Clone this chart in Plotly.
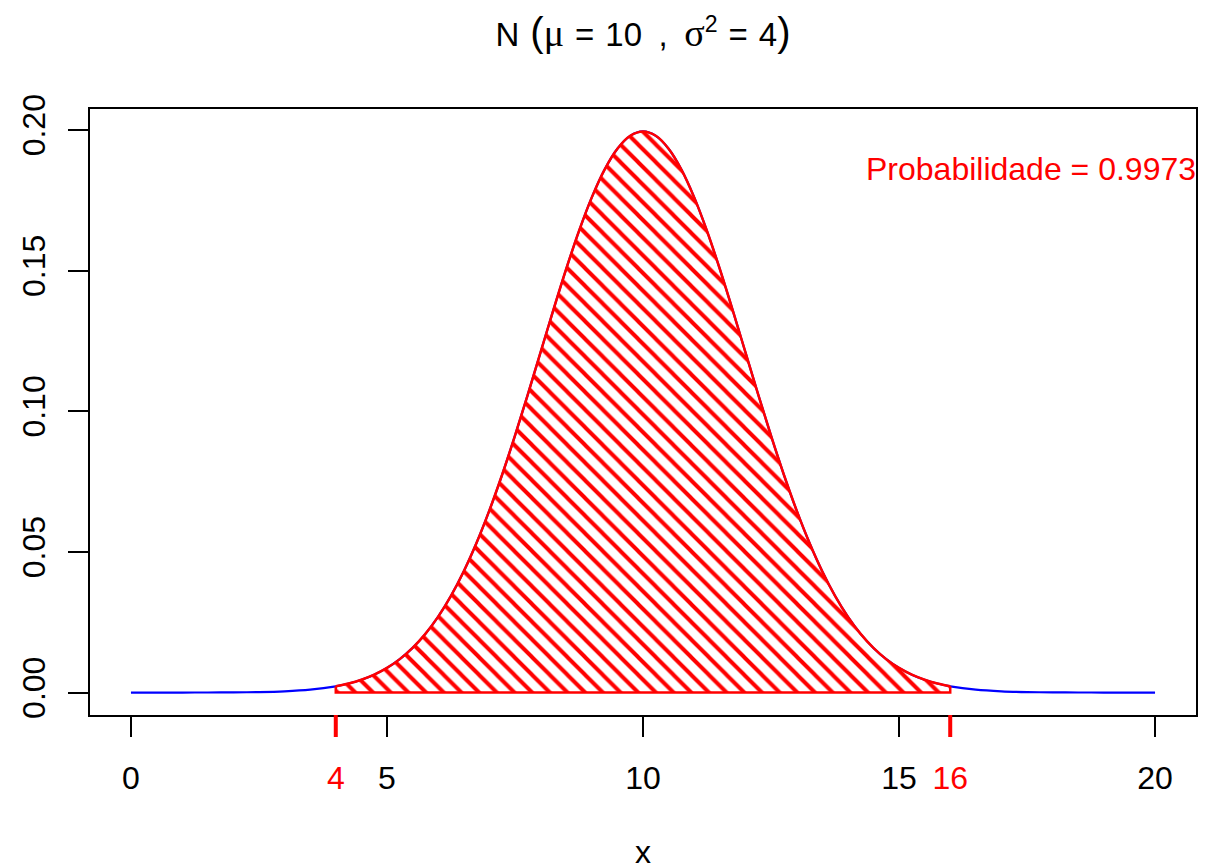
import plotly.graph_objects as go

# normal density N(10, 4) (finer steps inside the shaded part)
x_vals = [0, 0.5, 1, 1.5, 2, 2.5, 3, 3.5,
          4, 4.25, 4.5, 4.75, 5, 5.25, 5.5, 5.75, 6, 6.25, 6.5, 6.75, 7, 7.25, 7.5, 7.75,
          8, 8.25, 8.5, 8.75, 9, 9.25, 9.5, 9.75, 10, 10.25, 10.5, 10.75, 11, 11.25,
          11.5, 11.75, 12, 12.25, 12.5, 12.75, 13, 13.25, 13.5, 13.75, 14, 14.25, 14.5,
          14.75, 15, 15.25, 15.5, 15.75, 16,
          16.5, 17, 17.5, 18, 18.5, 19, 19.5, 20]
density = [0.0000007, 0.0000025, 0.0000080, 0.0000239, 0.0000669, 0.0001763, 0.0004363,
           0.0010141,
           0.00222, 0.00320, 0.00455, 0.00636, 0.00876, 0.01188, 0.01587, 0.02086,
           0.02700, 0.03439, 0.04314, 0.05327, 0.06476, 0.07751, 0.09132, 0.10594,
           0.12099, 0.13603, 0.15057, 0.16408, 0.17603, 0.18593, 0.19333, 0.19792,
           0.19947, 0.19792, 0.19333, 0.18593, 0.17603, 0.16408, 0.15057, 0.13603,
           0.12099, 0.10594, 0.09132, 0.07751, 0.06476, 0.05327, 0.04314, 0.03439,
           0.02700, 0.02086, 0.01587, 0.01188, 0.00876, 0.00636, 0.00455, 0.00320,
           0.00222,
           0.0010141, 0.0004363, 0.0001763, 0.0000669, 0.0000239, 0.0000080, 0.0000025,
           0.0000007]

lower, upper = 4, 16
prob_text = "Probabilidade = 0.9973"
x_ticks = [0, 5, 10, 15, 20]
y_ticks = [0.00, 0.05, 0.10, 0.15, 0.20]

i0 = x_vals.index(lower)
i1 = x_vals.index(upper)
x_shade = x_vals[i0:i1 + 1]
y_shade = density[i0:i1 + 1]

font = "Liberation Sans, Arial, sans-serif"
serif = "Liberation Serif, serif"

fig = go.Figure()

# full density in blue
fig.add_trace(go.Scatter(
    x=x_vals, y=density, mode="lines",
    line=dict(color="blue", width=2.2, shape="spline"),
    hoverinfo="skip", showlegend=False,
))

# hatched area between the limits
fig.add_trace(go.Scatter(
    x=x_shade, y=y_shade, mode="lines", fill="tozeroy",
    fillcolor="rgba(0,0,0,0)",
    fillpattern=dict(shape="\\", fgcolor="red", fgopacity=1, bgcolor="rgba(0,0,0,0)",
                     size=12.5, solidity=0.32),
    line=dict(color="red", width=2.5, shape="spline"),
    hoverinfo="skip", showlegend=False,
))

# polygon edges (sides and base)
fig.add_trace(go.Scatter(
    x=[lower, lower, upper, upper], y=[y_shade[0], 0, 0, y_shade[-1]],
    mode="lines", line=dict(color="red", width=2.5),
    hoverinfo="skip", showlegend=False,
))

all_ticks = sorted(x_ticks + [lower, upper])
tick_text = []
for t in all_ticks:
    if t in (lower, upper):
        tick_text.append(f"<span style='color:red'>{t}</span>")
    else:
        tick_text.append(str(t))

# red tick marks at the limits
for v in (lower, upper):
    fig.add_shape(type="line", xref="x", yref="paper", x0=v, x1=v, y0=0, y1=-22 / 606,
                  line=dict(color="red", width=4))

fig.add_annotation(
    x=20.8, y=0.186, xref="x", yref="y", text=prob_text, showarrow=False,
    xanchor="right", yanchor="middle", xshift=2,
    font=dict(color="red", size=32, family=font),
)

fig.add_annotation(
    x=0.5, y=0, xref="paper", yref="paper", yshift=-137, text="x", showarrow=False,
    xanchor="center", yanchor="middle", font=dict(color="black", size=32, family=font),
)

en = "\u2002"
th = "\u2004"
title_text = (
    f"N{th}<span style='font-size:40px'>(</span>"
    f"<span style='font-family:{serif};font-size:38px'>μ</span>{th}={th}10{en},{en}"
    f"<span style='font-family:{serif};font-size:38px'>σ</span><sup>2</sup>{th}={th}4"
    f"<span style='font-size:40px'>)</span>"
)

# page body has an 8px margin, so the figure is 8px smaller than the window
fig.update_layout(
    width=1201, height=856,
    margin=dict(l=82, r=13, t=101, b=149),
    plot_bgcolor="white", paper_bgcolor="white",
    font=dict(family=font, size=32, color="black"),
    title=dict(
        text=title_text,
        x=0.5, xref="paper", xanchor="center",
        y=1 - 26 / 856, yref="container", yanchor="middle",
        font=dict(size=33, family=font),
    ),
    xaxis=dict(
        range=[-0.8, 20.8], tickvals=all_ticks, ticktext=tick_text,
        showgrid=False, zeroline=False, automargin=False,
        showline=True, mirror=True, linecolor="black", linewidth=2,
        ticks="outside", ticklen=20, tickwidth=2, tickcolor="black",
        ticklabelstandoff=14, tickfont=dict(size=32),
    ),
    yaxis=dict(
        range=[-0.00798, 0.20745], tickvals=y_ticks,
        ticktext=[f"{v:.2f}" for v in y_ticks], tickangle=-90,
        showgrid=False, zeroline=False, automargin=False,
        showline=True, mirror=True, linecolor="black", linewidth=2,
        ticks="outside", ticklen=20, tickwidth=2, tickcolor="black",
        ticklabelstandoff=10, tickfont=dict(size=32),
    ),
)

fig.write_html("out.html")
